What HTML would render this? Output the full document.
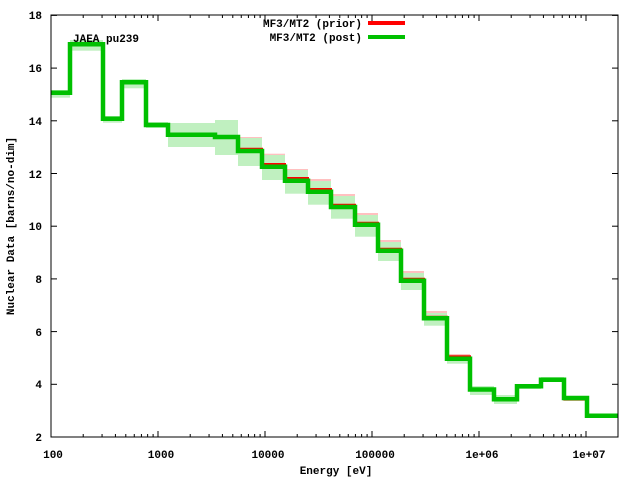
<!DOCTYPE html>
<html><head><meta charset="utf-8"><style>
html,body{margin:0;padding:0;background:#fff}
svg text{font-family:"Liberation Mono",monospace;font-size:11px;font-weight:bold;fill:#000}
</style></head><body>
<svg id="s" width="640" height="480" xmlns="http://www.w3.org/2000/svg">
<g id="bands"></g>
<g id="lines"></g>
<rect x="51" y="15" width="567" height="422" fill="none" stroke="#000" stroke-width="1"/>
<g id="ticks" stroke="#000" stroke-width="1"></g>
<g text-anchor="end">
<text x="42" y="441">2</text><text x="42" y="388">4</text><text x="42" y="336">6</text><text x="42" y="283">8</text>
<text x="42" y="230">10</text><text x="42" y="178">12</text><text x="42" y="125">14</text><text x="42" y="72">16</text><text x="42" y="19">18</text>
</g>
<g text-anchor="middle">
<text x="53" y="458">100</text><text x="161" y="458">1000</text><text x="268" y="458">10000</text><text x="375" y="458">100000</text><text x="482" y="458">1e+06</text><text x="589" y="458">1e+07</text>
<text x="336" y="474">Energy [eV]</text>
<text transform="translate(14,226) rotate(-90)">Nuclear Data [barns/no-dim]</text>
</g>
<text x="73" y="42">JAEA pu239</text>
<g text-anchor="end"><text x="362" y="27">MF3/MT2 (prior)</text><text x="362" y="41">MF3/MT2 (post)</text></g>
<line x1="368" y1="23" x2="405" y2="23" stroke="#ff0000" stroke-width="4"/>
<line x1="368" y1="37" x2="405" y2="37" stroke="#00c000" stroke-width="4"/>
</svg>
<script>
var NS="http://www.w3.org/2000/svg";
function el(p,t,a){var e=document.createElementNS(NS,t);for(var k in a)e.setAttribute(k,a[k]);document.getElementById(p).appendChild(e);}
var xe=[51,70,103,122,146,168,215,238,262,285,308,331,355,378,401,424,447,470,494,517,541,564,587,618];
var g=[92.7,44.3,118.7,82.3,125,134.7,137,151,166.7,180.7,191.7,207,224.7,250.7,280.7,318.3,358.7,389.5,399.3,386.2,379.7,398,415.7];
var r=g.slice();var rv={7:148.7,8:164,9:178,10:189,11:204.7,12:222.7,13:248.7,14:278.7,15:316.7,16:356.3,21:399.5};for(var k in rv)r[k]=rv[k];
var bt=[[90,97.7],[40,50.7],[116,122.7],[79,88.3],[122,128],[123,147],[120,155],[138,166],[155,180],[170,193.7],[181,204.7],[196,218.7],[215,236.7],[242,261],[273,290],[313,325.7],[355,363.7],[386,395],[395,404],[384,389],[377,382],[396,401],[414,417]];
var pk={7:137,8:153.7,9:169,10:179,11:194,12:213,13:240,14:271,15:311,16:354};
for(var k in pk)el("bands","rect",{x:xe[k],y:pk[k],width:xe[+k+1]-xe[k],height:r[k]+4-pk[k],fill:"#ffc0c0"});
for(var i=0;i<bt.length;i++)el("bands","rect",{x:xe[i],y:bt[i][0],width:xe[i+1]-xe[i],height:bt[i][1]-bt[i][0],fill:"#c0f0c0"});
function path(v){var d="M"+xe[0]+" "+v[0];for(var i=0;i<v.length;i++){if(i>0)d+=" L"+xe[i]+" "+v[i];d+=" L"+xe[i+1]+" "+v[i];}return d;}
el("lines","path",{d:path(r),fill:"none",stroke:"#ff0000","stroke-width":2});
el("lines","path",{d:path(g),fill:"none",stroke:"#00c000","stroke-width":4.5});
for(var v=2;v<=18;v+=2){var y=437-(v-2)*26.35;el("ticks","line",{x1:51,y1:y,x2:57,y2:y});el("ticks","line",{x1:618,y1:y,x2:612,y2:y});}
for(var d=2;d<=7;d++){for(var m=1;m<=9;m++){var x=51+(d-2+Math.log10(m))*107;if(x>618)break;var L=m==1?6:3;el("ticks","line",{x1:x,y1:437,x2:x,y2:437-L});el("ticks","line",{x1:x,y1:15,x2:x,y2:15+L});}}
</script>
</body></html>
